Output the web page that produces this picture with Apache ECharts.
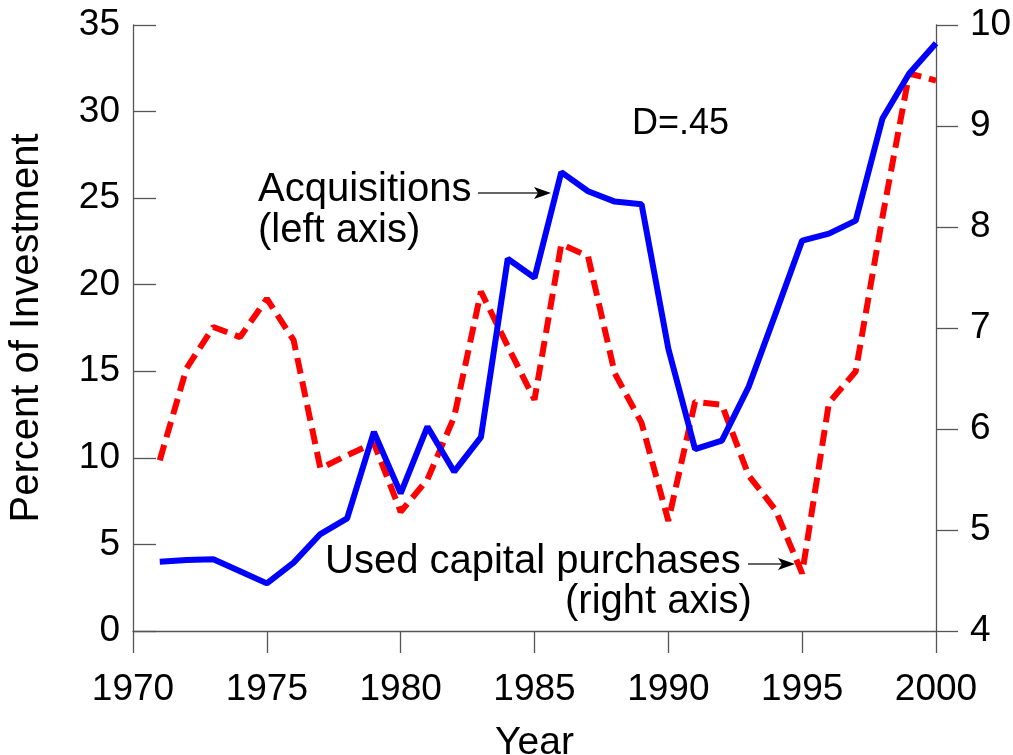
<!DOCTYPE html>
<html>
<head>
<meta charset="utf-8">
<script src="https://cdn.jsdelivr.net/npm/echarts@6/dist/echarts.min.js"></script>
<style>
html,body{margin:0;padding:0;background:#fff;}
#chart{width:1013px;height:755px;}
</style>
</head>
<body>
<div id="chart"></div>
<script>
var years = [1971,1972,1973,1974,1975,1976,1977,1978,1979,1980,1981,1982,1983,1984,1985,1986,1987,1988,1989,1990,1991,1992,1993,1994,1995,1996,1997,1998,1999,2000];
var acquisitions = [4.0,4.1,4.15,3.45,2.75,3.95,5.6,6.5,11.5,7.95,11.8,9.2,11.2,21.5,20.4,26.5,25.4,24.8,24.65,16.3,10.5,11.0,14.1,18.3,22.55,22.95,23.7,29.6,32.2,33.95];
var usedCapital = [5.69,6.6,7.01,6.91,7.29,6.88,5.61,5.74,5.86,5.18,5.5,6.12,7.36,6.82,6.29,7.83,7.71,6.55,6.06,5.09,6.27,6.24,5.54,5.2,4.57,6.26,6.57,8.1,9.52,9.45];
var xTicks = [1970,1975,1980,1985,1990,1995,2000];
var leftTicks = [0,5,10,15,20,25,30,35];
var rightTicks = [4,5,6,7,8,9,10];

function pairs(xs, ys){ return xs.map(function(x,i){ return [x, ys[i]]; }); }

var FONT = 'Liberation Sans';
var axisColor = '#555';
var chart = echarts.init(document.getElementById('chart'), null, {renderer:'canvas'});
var option = {
  animation: false,
  backgroundColor: '#fff',
  textStyle: {fontFamily: FONT},
  grid: {left: 133, right: 77, top: 25, bottom: 124, containLabel: false, outerBoundsMode: 'none'},
  xAxis: {
    type: 'value', min: xTicks[0], max: xTicks[xTicks.length-1], interval: 5,
    name: 'Year', nameLocation: 'middle', nameGap: 93,
    nameTextStyle: {fontSize: 39, color: '#000', fontFamily: FONT},
    axisLine: {show: true, lineStyle: {color: axisColor, width: 1.3}},
    axisTick: {show: true, inside: false, length: 22, lineStyle: {color: axisColor, width: 1.3}},
    axisLabel: {fontSize: 37, color: '#000', margin: 40, fontFamily: FONT,
      formatter: function(v){ return String(v); }},
    splitLine: {show: false}
  },
  yAxis: [{
    type: 'value', min: leftTicks[0], max: leftTicks[leftTicks.length-1], interval: 5, position: 'left',
    name: 'Percent of Investment', nameLocation: 'middle', nameGap: 86,
    nameTextStyle: {fontSize: 40, color: '#000', fontFamily: FONT},
    axisLine: {show: true, lineStyle: {color: axisColor, width: 1.3}},
    axisTick: {show: true, inside: true, length: 23, lineStyle: {color: axisColor, width: 1.3}},
    axisLabel: {fontSize: 37, color: '#000', margin: 13, fontFamily: FONT},
    splitLine: {show: false}
  },{
    type: 'value', min: rightTicks[0], max: rightTicks[rightTicks.length-1], interval: 1, position: 'right',
    axisLine: {show: true, lineStyle: {color: axisColor, width: 1.3}},
    axisTick: {show: true, inside: false, length: 22, lineStyle: {color: axisColor, width: 1.3}},
    axisLabel: {fontSize: 37, color: '#000', margin: 34, fontFamily: FONT},
    splitLine: {show: false}
  }],
  series: [{
    name: 'Used capital purchases', type: 'line', yAxisIndex: 1,
    data: pairs(years, usedCapital), showSymbol: false, symbol: 'none',
    lineStyle: {color: '#ff0000', width: 6, type: [16, 8]},
    z: 2
  },{
    name: 'Acquisitions', type: 'line', yAxisIndex: 0,
    data: pairs(years, acquisitions), showSymbol: false, symbol: 'none',
    lineStyle: {color: '#0000ff', width: 6},
    z: 3
  }],
  graphic: [
    {type:'text', left: 632, top: 106, style:{text:'D=.45', font:'36px "Liberation Sans"', fill:'#000'}},
    {type:'text', left: 258, top: 170, style:{text:'Acquisitions', font:'40px "Liberation Sans"', fill:'#000'}},
    {type:'text', left: 258, top: 211, style:{text:'(left axis)', font:'40px "Liberation Sans"', fill:'#000'}},
    {type:'line', shape:{x1:478, y1:193, x2:540, y2:193}, style:{stroke:'#333', lineWidth:1.5}},
    {type:'polygon', shape:{points:[[551,193],[534,187],[538,193],[534,199]]}, style:{fill:'#000'}},
    {type:'text', left: 325, top: 542, style:{text:'Used capital purchases', font:'40px "Liberation Sans"', fill:'#000'}},
    {type:'text', left: 565, top: 582, style:{text:'(right axis)', font:'40px "Liberation Sans"', fill:'#000'}},
    {type:'line', shape:{x1:748, y1:564, x2:784, y2:564}, style:{stroke:'#333', lineWidth:1.5}},
    {type:'polygon', shape:{points:[[795,564],[778,558],[782,564],[778,570]]}, style:{fill:'#000'}}
  ]
};
chart.setOption(option);
</script>
</body>
</html>
